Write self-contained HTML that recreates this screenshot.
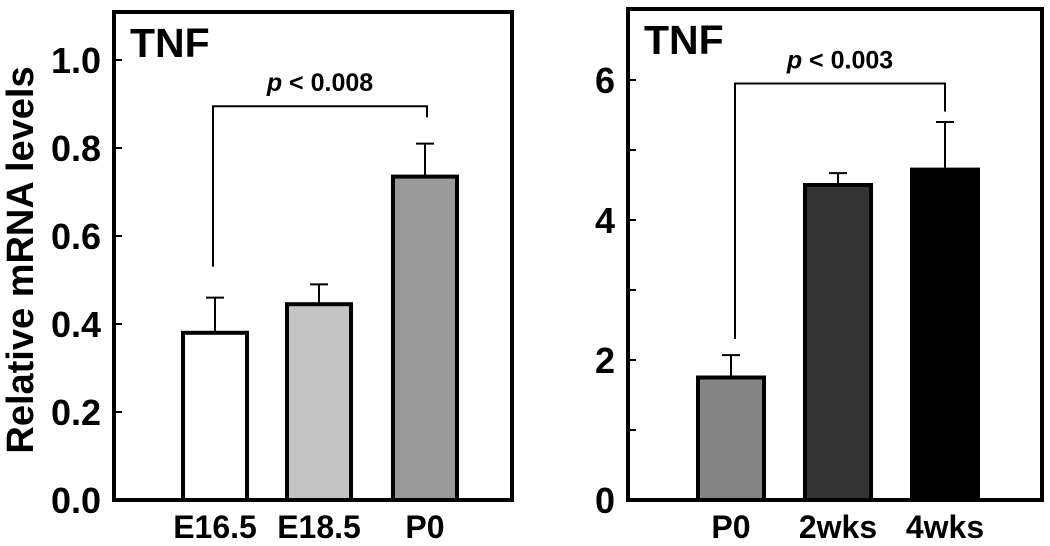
<!DOCTYPE html>
<html><head><meta charset="utf-8"><style>
html,body{margin:0;padding:0;background:#fff;}
svg{display:block;font-family:"Liberation Sans",Arial,sans-serif;font-weight:bold;}
</style></head><body>
<svg id="chart" width="1050" height="546" viewBox="0 0 1050 546"></svg>
<script>
const leftCategories = ["E16.5","E18.5","P0"];
const leftValues = [0.38,0.445,0.735];
const leftErrors = [0.08,0.045,0.075];
const leftTicks = ["0.0","0.2","0.4","0.6","0.8","1.0"];
const rightCategories = ["P0","2wks","4wks"];
const rightValues = [1.75,4.5,4.72];
const rightErrors = [0.32,0.17,0.68];
const rightTicks = ["0","2","4","6"];

const NS="http://www.w3.org/2000/svg";
const svg=document.getElementById('chart');
function mk(tag,attrs,parent){const e=document.createElementNS(NS,tag);for(const k in attrs)e.setAttribute(k,attrs[k]);(parent||svg).appendChild(e);return e;}

function panel(cfg){
  const g=mk('g',{});
  
  
  const y=v=>cfg.y0-(v-cfg.vmin)*cfg.scale;
  cfg.values.forEach((v,i)=>{
    const x=cfg.barX[i];
    const r=mk('rect',{x:x,y:y(v),width:cfg.barW,height:cfg.y0-y(v),fill:cfg.fills[i],stroke:'#000','stroke-width':4},g);
    
    
    const cx=x+cfg.barW/2;
    const e=mk('path',{d:`M${cx} ${y(v)} V${y(v+cfg.errs[i])} M${cx-9} ${y(v+cfg.errs[i])} H${cx+9}`,stroke:'#000','stroke-width':2,fill:'none'},g);
    
    
    const t=mk('text',{x:cx,y:538,'font-size':32,'text-anchor':'middle'},g);
    t.textContent=cfg.cats[i];
    
    
  });
  const f=mk('rect',{x:cfg.x0,y:cfg.top,width:cfg.x1-cfg.x0,height:cfg.y0-cfg.top,fill:'none',stroke:'#000','stroke-width':4},g);
  
  
  cfg.ticks.forEach((lab)=>{
    const v=parseFloat(lab);const ty=y(v);
    mk('line',{x1:cfg.x0,x2:cfg.x0+8,y1:ty,y2:ty,stroke:'#000','stroke-width':2},g);
    const t=mk('text',{x:cfg.x0-13,y:ty+13,'font-size':36,'text-anchor':'end'},g);
    t.textContent=lab;
    
    
  });
  (cfg.minor||[]).forEach(v=>{const ty=y(v);mk('line',{x1:cfg.x0,x2:cfg.x0+8,y1:ty,y2:ty,stroke:'#000','stroke-width':2},g);});
  const tt=mk('text',{x:cfg.x0+16,y:cfg.top+45,'font-size':41},g);
  tt.textContent='TNF';
  
  
  const b=cfg.bracket;
  const bp=mk('path',{d:`M${b.x1} ${y(b.l)} V${y(b.top)} H${b.x2} V${y(b.r)}`,stroke:'#000','stroke-width':2,fill:'none'},g);
  
  
  const pt=mk('text',{x:(b.x1+b.x2)/2,y:y(b.top)-15,'font-size':25,'text-anchor':'middle'},g);
  pt.innerHTML='<tspan font-style="italic">p</tspan> &lt; '+b.label;
  
  
}

panel({name:'left-panel',cats:leftCategories,values:leftValues,errs:leftErrors,ticks:leftTicks,
  x0:114,x1:512,top:12,y0:500,vmin:0,scale:440,barX:[183,287,393],barW:64,
  fills:['#ffffff','#c4c4c4','#999999'],
  bracket:{x1:213,x2:427,top:0.895,l:0.53,r:0.87,label:'0.008'}});
panel({name:'right-panel',cats:rightCategories,values:rightValues,errs:rightErrors,ticks:rightTicks,minor:[1,3,5],
  x0:628,x1:1042,top:9,y0:500,vmin:0,scale:70,barX:[698,805,912],barW:66,
  fills:['#858585','#333333','#000000'],
  bracket:{x1:735,x2:945,top:5.95,l:2.3,r:5.55,label:'0.003'}});

const yt=mk('text',{x:0,y:0,'font-size':38,'text-anchor':'middle',transform:'translate(33,260) rotate(-90)'});
yt.textContent='Relative mRNA levels';


</script>
</body></html>
